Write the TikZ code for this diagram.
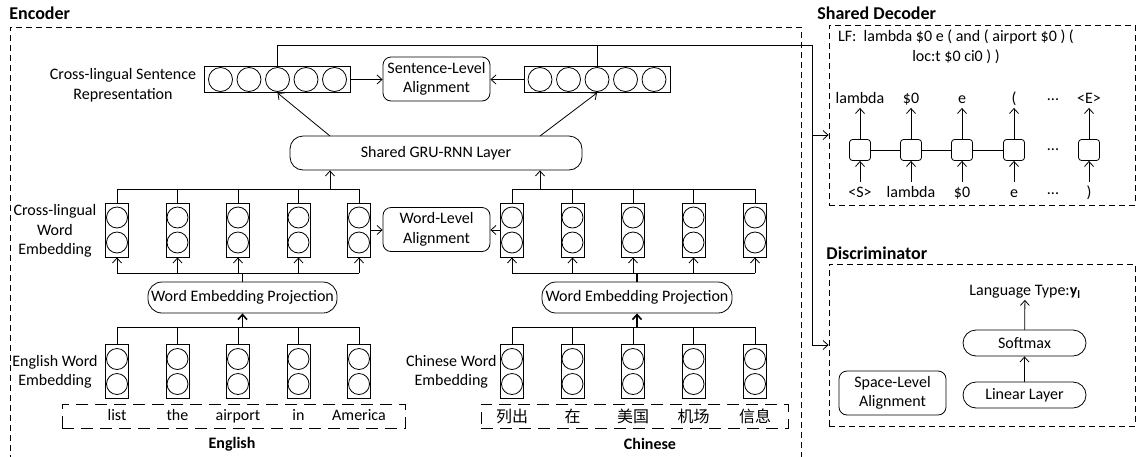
\documentclass[tikz,border=0pt]{standalone}
\usepackage{fontspec}
\setmainfont{Carlito}
\newfontfamily\cjk{Noto Sans CJK SC}
\usetikzlibrary{arrows.meta}

\begin{document}
\begin{tikzpicture}[x=1pt,y=-1pt,line width=0.8pt]

	\tikzset{
		txt/.style={inner sep=1pt, font=\fontsize{16}{19.5}\selectfont},
		head/.style={inner sep=1pt, anchor=west, font=\fontsize{18}{22}\selectfont\bfseries},
		panel/.style={draw, dash pattern=on 6pt off 4pt, inner sep=0pt},
		wordbox/.style={draw, dash pattern=on 12pt off 7pt, inner sep=0pt, minimum height=24},
		embcol/.style={draw, rectangle, minimum width=23, minimum height=54, inner sep=0pt},
		unit/.style={draw, circle, minimum size=21, inner sep=0pt},
		sentvec/.style={draw, rectangle, minimum width=146, minimum height=26, inner sep=0pt},
		sunit/.style={draw, circle, minimum size=24, inner sep=0pt},
		pill/.style={draw, rounded corners=13, inner sep=0pt, font=\fontsize{16}{19.5}\selectfont},
		alignbox/.style={draw, rounded corners=8, align=center, inner sep=0pt,
			minimum width=107, minimum height=44, font=\fontsize{16}{19.5}\selectfont},
		cell/.style={draw, rounded corners=3, minimum size=21, inner sep=0pt},
		arr/.style={-{Straight Barb[length=5pt,width=9pt]}},
		stem/.style={line width=1.6pt}
	}

	\useasboundingbox (0,0) rectangle (1137,456);

	% PANELS
	\node[panel, minimum width=791, minimum height=440] (enc) at (405.5,247) {};
	\node[panel, minimum width=306, minimum height=180] (dec) at (982,115) {};
	\node[panel, minimum width=306, minimum height=162] (disc) at (982,345) {};
	\node[head] (encT) at (8,13) {Encoder};
	\node[head] (decT) at (816,13) {Shared Decoder};
	\node[head] (discT) at (825,253) {Discriminator};

	% SENTENCE REPRESENTATION
	\node[sentvec] (lsv) at (277.5,79.5) {};
	\node[sentvec] (rsv) at (597,79.5) {};
	\foreach \d [count=\i] in {-57,-28.5,0,28.5,57}{
		\node[sunit] (ls\i) at (277.5+\d,79.5) {};
		\node[sunit] (rs\i) at (597+\d,79.5) {};
	}
	\node[alignbox] (sla) at (436.5,79) {Sentence-Level\\Alignment};
	\node[txt, align=center] (slbl) at (123,85) {Cross-lingual Sentence\\Representation};
	\draw[arr] (lsv.east) -- (lsv.east -| sla.west);
	\draw[arr] (rsv.west) -- (rsv.west -| sla.east);

	% SHARED GRU
	\node[pill, minimum width=292, minimum height=34] (gru) at (436,153) {Shared GRU-RNN Layer};
	\coordinate (gruL) at (330,136);
	\coordinate (gruR) at (540,136);
	\draw[arr] (gruL) -- (lsv.south -| ls3);
	\draw[arr] (gruR) -- (rsv.south -| rs3);

	% CROSS-LINGUAL WORD EMBEDDING
	\foreach \x [count=\i] in {117,177.5,238,298.5,359}{
		\node[embcol] (cl\i) at (\x,230) {};
		\node[unit] (cl\i a) at (\x,217.5) {};
		\node[unit] (cl\i b) at (\x,242.5) {};
		\node[embcol] (el\i) at (\x,371.5) {};
		\node[unit] (el\i a) at (\x,359) {};
		\node[unit] (el\i b) at (\x,384) {};
	}
	\foreach \x [count=\i] in {512,572.5,633,693.5,755}{
		\node[embcol] (cr\i) at (\x,230) {};
		\node[unit] (cr\i a) at (\x,217.5) {};
		\node[unit] (cr\i b) at (\x,242.5) {};
		\node[embcol] (zh\i) at (\x,371.5) {};
		\node[unit] (zh\i a) at (\x,359) {};
		\node[unit] (zh\i b) at (\x,384) {};
	}
	\node[alignbox] (wla) at (436.5,229.5) {Word-Level\\Alignment};
	\node[txt, align=center] (wlbl) at (55,231) {Cross-lingual\\Word\\Embedding};
	\draw[arr] (cl5.east) -- (cl5.east -| wla.west);
	\draw[arr] (cr1.west) -- (cr1.west -| wla.east);

	% BUSES TO GRU
	\coordinate (busT) at (0,189);
	\coordinate (busB) at (0,273);
	\coordinate (busE) at (0,327);
	\foreach \c in {cl,cr}{
		\foreach \i in {1,...,5}{
			\draw (\c\i.north) -- (\c\i.north |- busT);
			\draw[arr] (\c\i.south |- busB) -- (\c\i.south);
		}
		\draw (\c1.north |- busT) -- (\c5.north |- busT);
		\draw (\c1.south |- busB) -- (\c5.south |- busB);
	}
	\foreach \c in {el,zh}{
		\foreach \i in {1,...,5}
			\draw (\c\i.north) -- (\c\i.north |- busE);
		\draw (\c1.north |- busE) -- (\c5.north |- busE);
	}
	\draw[arr] (gruL |- busT) -- (gruL |- gru.south);
	\draw[arr] (gruR |- busT) -- (gruR |- gru.south);

	% WORD EMBEDDING PROJECTION
	\node[pill, rounded corners=14, minimum width=189, minimum height=31] (wepL) at (242.5,297.5) {Word Embedding Projection};
	\node[pill, rounded corners=14, minimum width=190, minimum height=31] (wepR) at (637,297.5) {Word Embedding Projection};
	\draw[stem] (wepL.north) -- (wepL.north |- busB);
	\draw[stem] (wepR.north) -- (wepR.north |- busB);
	\draw[stem, arr] (wepL.south |- busE) -- (wepL.south);
	\draw[stem, arr] (wepR.south |- busE) -- (wepR.south);

	% INPUT WORDS
	\node[txt, align=center] (elbl) at (55,372) {English Word\\Embedding};
	\node[txt, align=center, anchor=east] (zlbl) at (498,372) {Chinese Word\\Embedding};
	\node[wordbox, minimum width=343] (enbox) at (233.5,416) {};
	\node[wordbox, minimum width=307] (zhbox) at (634.5,416) {};
	\foreach \w [count=\i] in {list,the,airport,in,America}
		\node[txt, text height=11pt, text depth=2pt] (ew\i) at (el\i |- enbox) {\w};
	\foreach \w [count=\i] in {列出,在,美国,机场,信息}
		\node[txt, font=\fontsize{16}{19.5}\selectfont\cjk] (zw\i) at (zh\i |- zhbox) {\w};
	\node[txt, font=\fontsize{16}{19.5}\selectfont\bfseries] (enT) at (232,444) {English};
	\node[txt, font=\fontsize{16}{19.5}\selectfont\bfseries] (zhT) at (650,444) {Chinese};

	% TO DECODER AND DISCRIMINATOR
	\coordinate (jn) at (812,45);
	\coordinate (tapD) at (812,135);
	\draw (ls3 |- lsv.north) |- (jn);
	\draw (rs3 |- rsv.north) -- (rs3 |- jn);
	\draw[arr] (jn) |- (disc.west);
	\draw[arr] (tapD) -- (tapD -| dec.west);

	% SHARED DECODER
	\node[txt, align=center] (lf) at (956,47) {LF:~ lambda \$0 e ( and ( airport \$0 ) (\\loc:t \$0 ci0 ) )};
	\foreach \x/\o/\n [count=\i] in {860/lambda/<S>, 911/\$0/lambda, 962/e/\$0, 1014/(/e, 1089/<E>/)}{
		\node[cell] (dc\i) at (\x,150) {};
		\node[txt, text height=10pt, text depth=3pt] (to\i) at (\x,100) {\o};
		\node[txt, text height=10pt, text depth=3pt] (ti\i) at (\x,194) {\n};
		\draw[arr] (dc\i.north) -- (to\i.south);
		\draw[arr, shorten <=4pt] (ti\i.north) -- (dc\i.south);
	}
	\draw (dc1) -- (dc2);
	\draw (dc2) -- (dc3);
	\draw (dc3) -- (dc4);
	\node[txt] (dotT) at (1053,100) {...};
	\node[txt] (dotM) at (1053,150) {...};
	\node[txt] (dotB) at (1053,194) {...};

	% DISCRIMINATOR
	\node[pill, minimum width=123, minimum height=26] (soft) at (1024.5,343) {Softmax};
	\node[pill, minimum width=123, minimum height=26] (lin) at (1024.5,395) {Linear Layer};
	\node[alignbox] (spa) at (892.5,393) {Space-Level\\Alignment};
	\node[txt] (ltype) at (1025,292) {Language Type:\textbf{y}\textsubscript{\textbf{l}}};
	\draw[arr] (lin) -- (soft);
	\draw[arr] (soft) -- (ltype);

\end{tikzpicture}
\end{document}
